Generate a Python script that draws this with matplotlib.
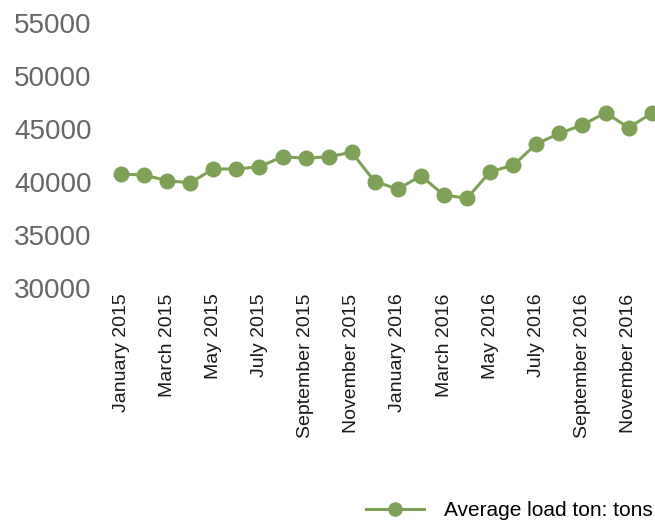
import matplotlib
matplotlib.use('Agg')
import matplotlib.pyplot as plt

plt.rcParams['font.family'] = ['Liberation Sans', 'DejaVu Sans']

# monthly data, Jan 2015 - Dec 2016
months = ['January 2015', 'February 2015', 'March 2015', 'April 2015', 'May 2015', 'June 2015',
          'July 2015', 'August 2015', 'September 2015', 'October 2015', 'November 2015', 'December 2015',
          'January 2016', 'February 2016', 'March 2016', 'April 2016', 'May 2016', 'June 2016',
          'July 2016', 'August 2016', 'September 2016', 'October 2016', 'November 2016', 'December 2016']
avg_load = [40750, 40660, 40120, 39930, 41230, 41230, 41440, 42390, 42240, 42390, 42800, 40030,
            39340, 40570, 38770, 38460, 40970, 41580, 43580, 44590, 45380, 46540, 45120, 46480]
yticks = [30000, 35000, 40000, 45000, 50000, 55000]

W, H = 655, 523
fig = plt.figure(figsize=(W / 100, H / 100), dpi=100)
# axes placed in pixel terms, right edge cut by the figure
left_px, right_px = 109.5, 655
top_px, bottom_px = 23, 288
ax = fig.add_axes([left_px / W, 1 - bottom_px / H, (right_px - left_px) / W, (bottom_px - top_px) / H])

color = '#7fa057'
x = list(range(len(months)))
ax.plot(x, avg_load, color=color, linewidth=2.2, marker='o', markersize=10.5,
        label='Average load ton: tons')

ax.set_xlim(-0.5, (655 - 121.5) / 23.05)
ax.set_ylim(30000, 55000)
ax.set_yticks(yticks)
ax.set_yticklabels([str(v) for v in yticks], fontsize=20, color='#666666')
ax.set_xticks(x[::2])
ax.set_xticklabels(months[::2], rotation=90, fontsize=14, color='#1a1a1a', va='top')
ax.tick_params(axis='both', length=0)
ax.tick_params(axis='y', pad=13)
ax.tick_params(axis='x', pad=4)
for s in ax.spines.values():
    s.set_visible(False)

fig.legend(loc='center left', bbox_to_anchor=(366 / W, 1 - 510.5 / H), frameon=False,
           fontsize=15, handlelength=2.8, handletextpad=0.95, borderpad=0, borderaxespad=0,
           markerscale=0.9)

fig.savefig('out.png', dpi=100)
